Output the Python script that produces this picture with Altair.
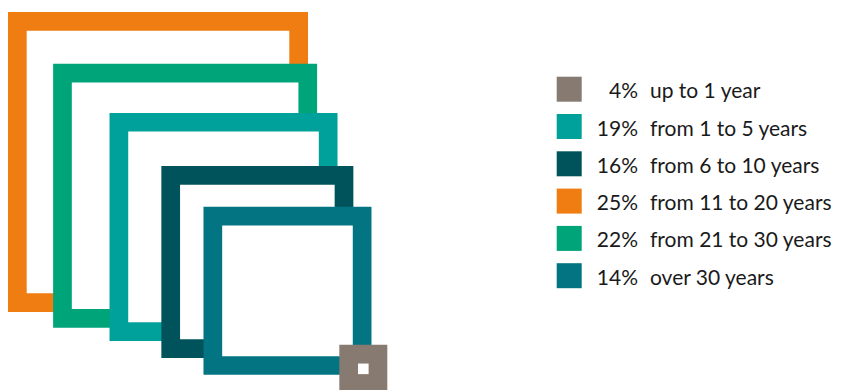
import altair as alt
import pandas as pd

# ---- data ----
categories = ["up to 1 year", "from 1 to 5 years", "from 6 to 10 years",
              "from 11 to 20 years", "from 21 to 30 years", "over 30 years"]
shares = [4, 19, 16, 25, 22, 14]
colors = ["#877A70", "#00A19B", "#00535A", "#EF7D11", "#00A479", "#037481"]

# ---- layout (style, not data) ----
PX = 12.0                     # pixels per percentage point
W, H = 829, 382
STROKE = 18.7 / PX
draw_order = ["from 11 to 20 years", "from 21 to 30 years", "from 1 to 5 years",
              "from 6 to 10 years", "over 30 years", "up to 1 year"]
centers = {  # square centres along the diagonal, in scale units
    "from 11 to 20 years": (12.5, 12.83),
    "from 21 to 30 years": (14.76, 15.65),
    "from 1 to 5 years": (17.96, 18.24),
    "from 6 to 10 years": (20.78, 21.17),
    "over 30 years": (23.29, 23.57),
    "up to 1 year": (29.61, 30.07),
}
LEG_X = 561.2 / PX
LEG_PCT_X = 630 / PX
LEG_LAB_X = 642 / PX
LEG_Y0 = 81.2 / PX
LEG_STEP = 37.3 / PX

share_of = dict(zip(categories, shares))
color_of = dict(zip(categories, colors))

rows = []
for k, cat in enumerate(draw_order):
    cx, cy = centers[cat]
    s = share_of[cat]
    rows.append(dict(o=2 * k, x0=cx - s / 2, x1=cx + s / 2, y0=cy - s / 2, y1=cy + s / 2,
                     fill=color_of[cat]))
    rows.append(dict(o=2 * k + 1, x0=cx - s / 2 + STROKE, x1=cx + s / 2 - STROKE,
                     y0=cy - s / 2 + STROKE, y1=cy + s / 2 - STROKE, fill="#ffffff"))
sq = pd.DataFrame(rows)

leg = pd.DataFrame({
    "cat": categories,
    "pct": [f"{v}%" for v in shares],
    "fill": colors,
    "y": [LEG_Y0 + i * LEG_STEP for i in range(len(categories))],
    "xs": LEG_X, "xp": LEG_PCT_X, "xl": LEG_LAB_X,
})

xs = alt.Scale(domain=[0, W / PX], nice=False, zero=False)
ys = alt.Scale(domain=[0, H / PX], nice=False, zero=False, reverse=True)

squares = alt.Chart(sq).mark_rect(strokeWidth=0).encode(
    x=alt.X("x0:Q", scale=xs, axis=None), x2="x1:Q",
    y=alt.Y("y0:Q", scale=ys, axis=None), y2="y1:Q",
    fill=alt.Fill("fill:N", scale=None),
    order="o:Q",
)

base = alt.Chart(leg)
leg_sq = base.mark_square(size=625, opacity=1, strokeWidth=0, filled=True).encode(
    x=alt.X("xs:Q", scale=xs, axis=None),
    y=alt.Y("y:Q", scale=ys, axis=None),
    fill=alt.Fill("fill:N", scale=None),
)
font = "Lato"
FS = 21
leg_pct = base.mark_text(align="right", baseline="alphabetic", dy=9, font=font,
                         fontSize=FS, color="#1a1a1a").encode(
    x=alt.X("xp:Q", scale=xs, axis=None),
    y=alt.Y("y:Q", scale=ys, axis=None),
    text="pct:N",
)
leg_lab = base.mark_text(align="left", baseline="alphabetic", dy=9, font=font,
                         fontSize=FS, color="#1a1a1a").encode(
    x=alt.X("xl:Q", scale=xs, axis=None),
    y=alt.Y("y:Q", scale=ys, axis=None),
    text="cat:N",
)

chart = alt.layer(squares, leg_sq, leg_pct, leg_lab).properties(
    width=W, height=H, padding=0, autosize="none", background="#ffffff",
).configure_view(strokeWidth=0, stroke=None)

chart.save("out.html", embed_options={"renderer": "svg", "actions": False})
